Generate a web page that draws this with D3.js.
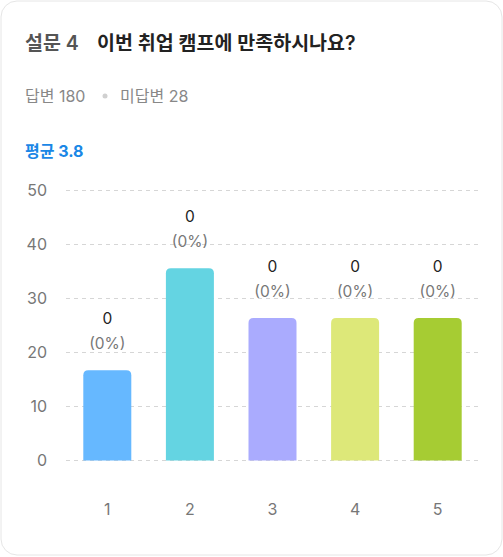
<!DOCTYPE html>
<html>
<head>
<meta charset="utf-8">
<script src="https://cdn.jsdelivr.net/npm/d3@7"></script>
<style>
  html, body { margin: 0; padding: 0; background: #fff; }
  body { font-family: "Inter", "Noto Sans CJK KR", sans-serif; }
</style>
</head>
<body>
<svg id="chart" width="503" height="557"></svg>
<script>
const categories = ["1", "2", "3", "4", "5"];
const values = [16.7, 35.6, 26.4, 26.4, 26.4];
const counts = [0, 0, 0, 0, 0];
const percents = ["0%", "0%", "0%", "0%", "0%"];
const colors = ["#66b8ff", "#64d4e2", "#aaabfe", "#dde879", "#a6cc33"];
const yTicks = [0, 10, 20, 30, 40, 50];
const questionNo = "설문 4";
const questionText = "이번 취업 캠프에 만족하시나요?";
const answered = "답변 180";
const unanswered = "미답변 28";
const average = "평균 3.8";

const width = 503;
const height = 557;
const svg = d3.select("#chart");

// card
svg.append("rect")
  .attr("x", 1).attr("y", 1)
  .attr("width", width - 2).attr("height", height - 3)
  .attr("rx", 16)
  .attr("fill", "#fff")
  .attr("stroke", "#e6e6e6");

// header
const title = svg.append("text").attr("x", 25).attr("y", 50)
  .attr("font-size", 19.5).attr("font-weight", 600);
title.append("tspan").attr("fill", "#555").text(questionNo);
title.append("tspan").attr("x", 97).attr("fill", "#222").text(questionText);

svg.append("text").attr("x", 25).attr("y", 101.5)
  .attr("font-size", 16).attr("fill", "#888").text(answered);
svg.append("circle").attr("cx", 105).attr("cy", 96).attr("r", 2.5).attr("fill", "#d0d0d0");
svg.append("text").attr("x", 120).attr("y", 101.5)
  .attr("font-size", 16).attr("fill", "#888").text(unanswered);

svg.append("text").attr("x", 25).attr("y", 156.5)
  .attr("font-size", 16).attr("font-weight", 700).attr("fill", "#1a87e6").text(average);

// scales
const x = d3.scaleBand().domain(categories).range([66, 479]);
const y = d3.scaleLinear().domain([0, 50]).range([460.5, 190.5]);
const barW = 48;

// grid
svg.append("g").selectAll("line").data(yTicks).join("line")
  .attr("x1", 66).attr("x2", 479)
  .attr("y1", d => y(d)).attr("y2", d => y(d))
  .attr("stroke", "#d6d6d6").attr("stroke-dasharray", "4,4");

svg.append("g").selectAll("text").data(yTicks).join("text")
  .attr("x", 47).attr("y", d => y(d) + 5.5)
  .attr("text-anchor", "end")
  .attr("font-size", 16).attr("fill", "#777")
  .text(d => d);

// bars with rounded tops
const r = 5;
const barPath = (i) => {
  const x0 = x(categories[i]) + x.bandwidth() / 2 - barW / 2;
  const x1 = x0 + barW;
  const y0 = y(values[i]);
  const yb = y(0);
  return `M${x0},${yb}V${y0 + r}Q${x0},${y0} ${x0 + r},${y0}H${x1 - r}Q${x1},${y0} ${x1},${y0 + r}V${yb}Z`;
};
svg.append("g").selectAll("path").data(values).join("path")
  .attr("d", (d, i) => barPath(i))
  .attr("fill", (d, i) => colors[i]);

// value labels
const lab = svg.append("g").selectAll("g").data(values).join("g")
  .attr("transform", (d, i) => `translate(${x(categories[i]) + x.bandwidth() / 2},${y(d)})`);
lab.append("text").attr("y", -46).attr("text-anchor", "middle")
  .attr("font-size", 15.5).attr("fill", "#222").text((d, i) => counts[i]);
lab.append("text").attr("y", -21).attr("text-anchor", "middle")
  .attr("font-size", 15.5).attr("fill", "#777").text((d, i) => `(${percents[i]})`);

// x labels
svg.append("g").selectAll("text").data(categories).join("text")
  .attr("x", d => x(d) + x.bandwidth() / 2).attr("y", 515)
  .attr("text-anchor", "middle")
  .attr("font-size", 16).attr("fill", "#777")
  .text(d => d);
</script>
</body>
</html>
